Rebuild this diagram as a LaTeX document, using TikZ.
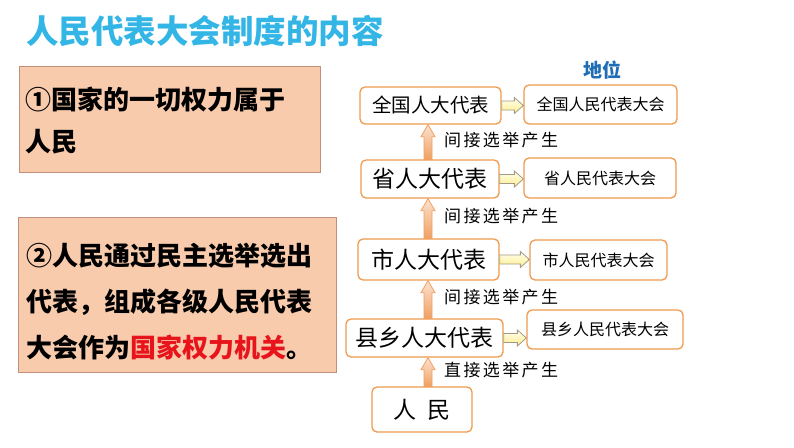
\documentclass[tikz,border=0pt]{standalone}
\usepackage{fontspec}
\setmainfont{Noto Sans CJK SC}
\newfontfamily\lblfont[LetterSpace=14]{Noto Sans CJK SC}
\usetikzlibrary{calc}
\usepackage{xcolor}
\definecolor{TitleCyan}{HTML}{33B5E5}
\definecolor{Peach}{HTML}{F8CBAD}
\definecolor{PeachLine}{HTML}{C0907A}
\definecolor{BoxOrange}{HTML}{EE9B4E}
\definecolor{KeyRed}{HTML}{E8141C}
\definecolor{PosBlue}{HTML}{1F6DB5}
\definecolor{ArrowOrange}{HTML}{F0A062}
\definecolor{ArrowGray}{HTML}{A39A86}

% block arrow going up from #1 to #2, with label #3
\newcommand{\upblock}[3]{%
  \draw[upblk] let \p1=(#1.north), \p2=(#2.south) in
    (424pt,\y1) -- (424pt,\y2-12pt) -- (421pt,\y2-12pt) -- (428pt,\y2)
    -- (435pt,\y2-12pt) -- (432pt,\y2-12pt) -- (432pt,\y1) -- cycle;
  \path let \p1=(#1.north), \p2=(#2.south) in
    node[lbl] at (444pt,{0.5*\y1+0.5*\y2+2pt}) {#3};}
% block arrow going right from #1 to #2
\newcommand{\rightblock}[2]{%
  \draw[rightblk] let \p1=(#1.east), \p2=(#2.west) in
    (\x1,\y1+4.5pt) -- (\x2-9pt,\y1+4.5pt) -- (\x2-9pt,\y1+8pt) -- (\x2,\y1)
    -- (\x2-9pt,\y1-8pt) -- (\x2-9pt,\y1-4.5pt) -- (\x1,\y1-4.5pt) -- cycle;}

\begin{document}
\begin{tikzpicture}[x=1pt,y=-1pt,
    leftbox/.style={draw=PeachLine,fill=Peach,line width=0.8pt,inner sep=0pt},
    lefttext/.style={anchor=west,align=left,inner sep=0pt},
    orgbox/.style={draw=BoxOrange,fill=white,rounded corners=5pt,
                   line width=1.3pt,inner sep=0pt},
    repbox/.style={orgbox,font=\fontsize{23}{26}\selectfont},
    congbox/.style={orgbox,font=\fontsize{16}{18}\selectfont},
    lbl/.style={anchor=west,inner sep=0pt,font=\fontsize{17}{19}\lblfont},
    upblk/.style={draw=ArrowOrange,line width=0.8pt,
                  top color=ArrowOrange!30,bottom color=ArrowOrange},
    rightblk/.style={draw=ArrowGray,line width=0.8pt,
                     top color=yellow!6,bottom color=orange!30!yellow!45}]
  \useasboundingbox (0,0) rectangle (794,447);

  \node[anchor=west,inner sep=0pt,text=TitleCyan,
        font=\fontsize{32.5}{36}\selectfont\bfseries] (title) at (26,31)
    {人民代表大会制度的内容};

  % left side
  \node[leftbox,minimum width=301pt,minimum height=106pt] (box1) at (169.5,119) {};
  \node[lefttext,font=\fontsize{26}{42}\selectfont\bfseries] (text1) at (25,121)
    {①国家的一切权力属于\\人民};
  \node[leftbox,minimum width=318pt,minimum height=155pt] (box2) at (177.5,294.5) {};
  \node[lefttext,font=\fontsize{26}{46}\selectfont\bfseries] (text2) at (26,302)
    {②人民通过民主选举选出\\代表，组成各级人民代表\\
     大会作为{\color{KeyRed}国家权力机关}。};

  % right side
  \node[text=PosBlue,font=\fontsize{19}{22}\selectfont\bfseries] (pos) at (602,70) {地位};

  \node[repbox,font=\fontsize{19.5}{22}\selectfont,minimum width=141pt,minimum height=37pt]
    (nat) at (430.5,105.5) {全国人大代表};
  \node[repbox,minimum width=138pt,minimum height=38pt] (prov) at (430,179) {省人大代表};
  \node[repbox,minimum width=141pt,minimum height=41pt] (city) at (428.5,259.5) {市人大代表};
  \node[repbox,minimum width=157pt,minimum height=38pt] (cnty) at (424.5,338) {县乡人大代表};
  \node[repbox,minimum width=100pt,minimum height=45pt] (ppl) at (422,409.5) {人\hspace{0.5em}民};

  \node[congbox,minimum width=153pt,minimum height=39pt] (natc) at (600.5,104.5) {全国人民代表大会};
  \node[congbox,minimum width=152pt,minimum height=40pt] (provc) at (600,178) {省人民代表大会};
  \node[congbox,minimum width=137pt,minimum height=40pt] (cityc) at (598.5,260) {市人民代表大会};
  \node[congbox,minimum width=156pt,minimum height=39pt] (cntyc) at (605,329.5) {县乡人民代表大会};

  \rightblock{nat}{natc}
  \rightblock{prov}{provc}
  \rightblock{city}{cityc}
  \rightblock{cnty}{cntyc}

  \upblock{prov}{nat}{间接选举产生}
  \upblock{city}{prov}{间接选举产生}
  \upblock{cnty}{city}{间接选举产生}
  \upblock{ppl}{cnty}{直接选举产生}
\end{tikzpicture}
\end{document}
